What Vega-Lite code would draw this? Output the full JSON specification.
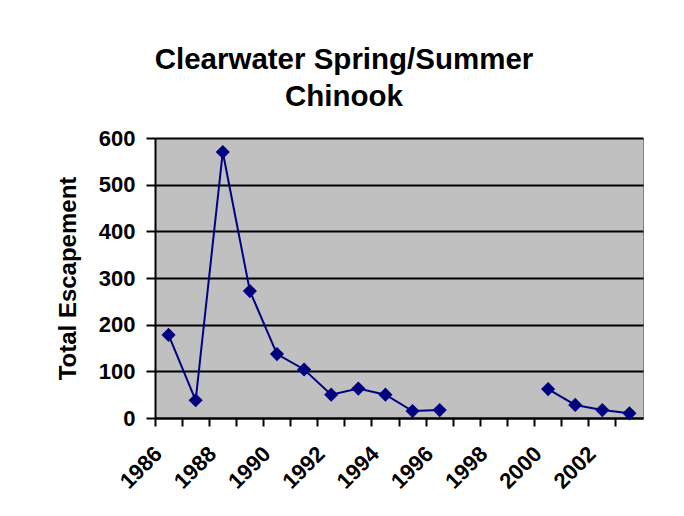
{
  "$schema": "https://vega.github.io/schema/vega-lite/v6.json",
  "width": 488,
  "height": 280,
  "autosize": {"type": "none"},
  "padding": {"left": 155, "top": 138, "right": 41, "bottom": 98},
  "background": "white",
  "title": {
    "text": ["Clearwater Spring/Summer", "Chinook"],
    "font": "Liberation Sans",
    "fontSize": 29.5,
    "fontWeight": "bold",
    "color": "black",
    "anchor": "middle",
    "dx": -55,
    "offset": 15,
    "lineHeight": 37
  },
  "data": {
    "values": [
      {"year": 1986, "escapement": 178},
      {"year": 1987, "escapement": 38},
      {"year": 1988, "escapement": 570},
      {"year": 1989, "escapement": 272},
      {"year": 1990, "escapement": 137},
      {"year": 1991, "escapement": 104},
      {"year": 1992, "escapement": 50},
      {"year": 1993, "escapement": 63},
      {"year": 1994, "escapement": 50},
      {"year": 1995, "escapement": 15},
      {"year": 1996, "escapement": 17},
      {"year": 1997, "escapement": null},
      {"year": 1998, "escapement": null},
      {"year": 1999, "escapement": null},
      {"year": 2000, "escapement": 62},
      {"year": 2001, "escapement": 28},
      {"year": 2002, "escapement": 17},
      {"year": 2003, "escapement": 10}
    ]
  },
  "encoding": {
    "x": {
      "field": "year",
      "type": "ordinal",
      "scale": {
        "type": "band",
        "domain": [1986, 1987, 1988, 1989, 1990, 1991, 1992, 1993, 1994, 1995, 1996, 1997, 1998, 1999, 2000, 2001, 2002, 2003],
        "paddingInner": 0,
        "paddingOuter": 0
      },
      "axis": {
        "title": null,
        "bandPosition": 0,
        "labelExpr": "datum.value % 2 == 0 ? datum.value : ''",
        "labelAngle": 315,
        "labelAlign": "right",
        "labelBaseline": "middle",
        "labelPadding": 24,
        "labelOffset": -10,
        "labelFont": "Liberation Sans",
        "labelFontSize": 22,
        "labelFontWeight": "bold",
        "labelColor": "black",
        "labelOverlap": false,
        "labelFlush": false,
        "domainColor": "black",
        "domainWidth": 2,
        "tickColor": "black",
        "tickWidth": 2,
        "tickSize": 8,
        "grid": false
      }
    },
    "y": {
      "field": "escapement",
      "type": "quantitative",
      "scale": {"domain": [0, 600], "nice": false},
      "axis": {
        "title": "Total Escapement",
        "titleFont": "Liberation Sans",
        "titleFontSize": 24,
        "titleFontWeight": "bold",
        "titleColor": "black",
        "titlePadding": 18,
        "values": [0, 100, 200, 300, 400, 500, 600],
        "labelFont": "Liberation Sans",
        "labelFontSize": 22,
        "labelFontWeight": "bold",
        "labelColor": "black",
        "labelPadding": 11,
        "domainColor": "black",
        "domainWidth": 2,
        "tickColor": "black",
        "tickWidth": 2,
        "tickSize": 9,
        "grid": true,
        "gridColor": "black",
        "gridWidth": 2,
        "gridOpacity": 1
      }
    }
  },
  "layer": [
    {"mark": {"type": "line", "color": "#000080", "strokeWidth": 2}},
    {"mark": {"type": "point", "shape": "diamond", "filled": true, "color": "#000080", "size": 200, "opacity": 1}}
  ],
  "config": {
    "view": {"fill": "#C0C0C0", "stroke": "#808080", "strokeWidth": 1}
  }
}
